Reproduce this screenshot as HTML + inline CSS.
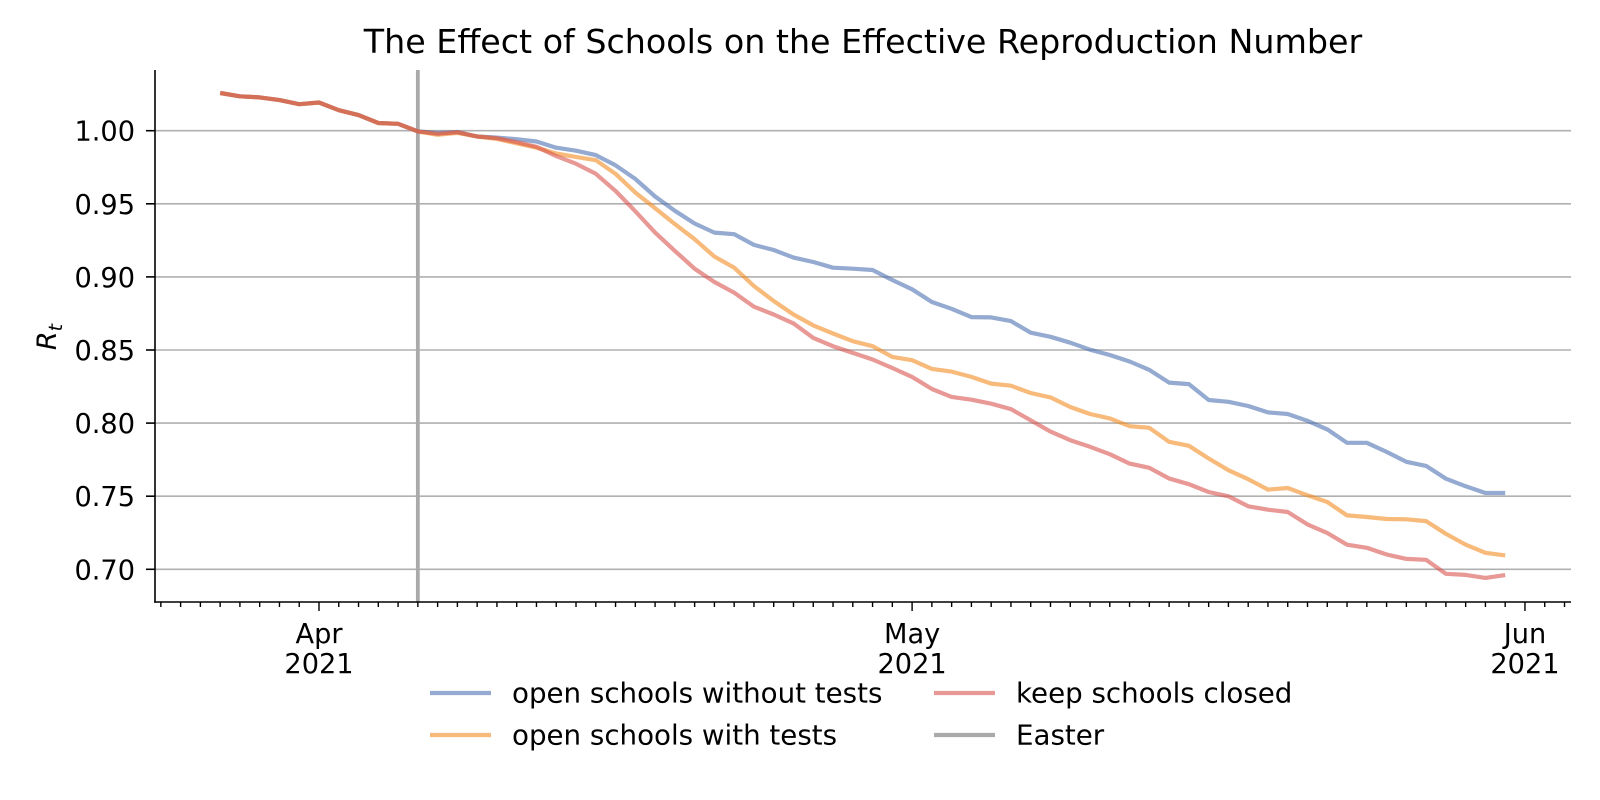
<!DOCTYPE html>
<html><head><meta charset="utf-8"><style>
html,body{margin:0;padding:0;background:#fff;width:1600px;height:800px;overflow:hidden}
svg{display:block;font-family:"DejaVu Sans","Liberation Sans",sans-serif}
</style></head><body>
<svg id="chart" width="1600" height="800" viewBox="0 0 1600 800">
<text x="863" y="53" text-anchor="middle" font-size="33.3" fill="#000">The Effect of Schools on the Effective Reproduction Number</text>
<g id="grid"></g>
<g id="lines"></g>
<g id="axes"></g>
<text transform="translate(56,337) rotate(-90)" text-anchor="middle" font-size="27" font-style="italic">R<tspan font-size="19" dy="6">t</tspan></text>
<g>
<g><line x1="430" y1="693" x2="491" y2="693" stroke="#4c72b0" stroke-opacity="0.6" stroke-width="4.2"/><text x="512" y="702.5" font-size="27.7">open schools without tests</text></g>
<g><line x1="430" y1="735" x2="491" y2="735" stroke="#f28c21" stroke-opacity="0.6" stroke-width="4.2"/><text x="512" y="744.5" font-size="27.7">open schools with tests</text></g>
<g><line x1="934" y1="693" x2="995" y2="693" stroke="#d9534f" stroke-opacity="0.6" stroke-width="4.2"/><text x="1016" y="702.5" font-size="27.7">keep schools closed</text></g>
<g><line x1="934" y1="735" x2="995" y2="735" stroke="#aaaaaa" stroke-width="4.2"/><text x="1016" y="744.5" font-size="27.7">Easter</text></g>
</g>
</svg>
<script>
// days relative to 1 Apr 2021
const days = [];
for (let d = -5; d <= 60; d++) days.push(d);
const commonVals = [1.0258,1.0235,1.0228,1.0209,1.0181,1.0193,1.014,1.0107,1.0053,1.0047,0.9995];
const blueVals = [0.9984,0.999,0.996,0.9953,0.9942,0.9926,0.9884,0.9863,0.9833,0.9763,0.967,
0.955,0.9452,0.9365,0.9303,0.9292,0.9219,0.9184,0.9132,0.9102,0.9063,0.9056,0.9047,0.8979,0.8915,0.8828,0.8782,0.8725,0.8723,0.8698,0.8618,
0.859,0.855,0.8502,0.8466,0.8421,0.8364,0.8277,0.8267,0.8158,0.8146,0.8117,0.8073,0.8062,0.8016,0.7957,0.7865,0.7865,0.7803,0.7735,0.7707,0.762,0.7568,0.7522,0.7522];
const orangeVals = [0.9972,0.9985,0.996,0.9944,0.9914,0.9884,0.9844,0.9821,0.9798,0.9705,0.9577,
0.947,0.9361,0.9258,0.9139,0.9063,0.8938,0.8835,0.8743,0.8668,0.8613,0.856,0.8526,0.8453,0.843,0.8371,0.8352,0.8316,0.827,0.8256,0.8206,
0.8176,0.811,0.8062,0.8032,0.7979,0.7968,0.7872,0.7845,0.7758,0.7678,0.7616,0.7545,0.7556,0.7506,0.746,0.7369,0.7358,0.7344,0.7342,0.733,0.7243,0.7168,0.7113,0.7095];
const redVals = [0.9979,0.999,0.996,0.9949,0.9921,0.989,0.9826,0.9774,0.9705,0.9588,0.9449,
0.9303,0.9178,0.9056,0.8965,0.8892,0.8796,0.8743,0.8682,0.8583,0.8526,0.848,0.8435,0.8377,0.8316,0.8233,0.8179,0.816,0.8133,0.8096,0.8019,
0.7942,0.7883,0.7838,0.7787,0.7723,0.7694,0.7621,0.7582,0.7529,0.7499,0.7431,0.7408,0.7392,0.7307,0.7248,0.7168,0.7147,0.7101,0.7071,0.7065,0.6969,0.6962,0.6941,0.696];
const yTicks = [0.70,0.75,0.80,0.85,0.90,0.95,1.00];
const yTickLabels = ["0.70","0.75","0.80","0.85","0.90","0.95","1.00"];
const majorDays = [0,30,61];
const majorLabels = ["Apr","May","Jun"];
const easterDay = 5;

const NS = "http://www.w3.org/2000/svg";
const X0 = 319, DX = 19.77;
const xs = d => X0 + d * DX;
const ys = v => 130.7 + (1 - v) * 1462;
const L = 155, R = 1571, T = 70, B = 602;
function mk(tag, attrs, parent) {
  const e = document.createElementNS(NS, tag);
  for (const k in attrs) e.setAttribute(k, attrs[k]);
  parent.appendChild(e);
  return e;
}
const grid = document.getElementById('grid');
const lines = document.getElementById('lines');
const axes = document.getElementById('axes');

yTicks.forEach((v, i) => {
  const g = mk('line', {x1: L, x2: R, y1: ys(v), y2: ys(v), stroke: '#b0b0b0', 'stroke-width': 1.6}, grid);
  
  
  const t = mk('line', {x1: L - 9, x2: L, y1: ys(v), y2: ys(v), stroke: '#000', 'stroke-width': 1.6}, axes);
  
  
  const lb = mk('text', {x: L - 20, y: ys(v) + 10, 'text-anchor': 'end', 'font-size': 27.2}, axes);
  lb.textContent = yTickLabels[i];
  
  
});

const ez = mk('line', {x1: xs(easterDay), x2: xs(easterDay), y1: T, y2: B, stroke: '#aaaaaa', 'stroke-width': 3.8}, grid);



const series = [
  {name: 'line-open-without-tests', color: '#4c72b0', vals: commonVals.concat(blueVals)},
  {name: 'line-open-with-tests', color: '#f28c21', vals: commonVals.concat(orangeVals)},
  {name: 'line-keep-closed', color: '#d9534f', vals: commonVals.concat(redVals)}
];
series.forEach(s => {
  const pts = s.vals.map((v, i) => xs(days[i]).toFixed(1) + ',' + ys(v).toFixed(1)).join(' ');
  const p = mk('polyline', {points: pts, fill: 'none', stroke: s.color, 'stroke-opacity': 0.6, 'stroke-width': 4.2, 'stroke-linejoin': 'round'}, lines);
  
  
});

const sl = mk('line', {x1: L, x2: L, y1: T, y2: B + 0.8, stroke: '#000', 'stroke-width': 1.6}, axes);


const sb = mk('line', {x1: L - 0.8, x2: R, y1: B, y2: B, stroke: '#000', 'stroke-width': 1.6}, axes);



for (let d = -8; d <= 63; d++) {
  const major = majorDays.indexOf(d) >= 0;
  const tk = mk('line', {x1: xs(d), x2: xs(d), y1: B, y2: B + (major ? 9 : 5), stroke: '#000', 'stroke-width': 1.4}, axes);
  
  
}
majorDays.forEach((d, i) => {
  const t1 = mk('text', {x: xs(d), y: 643, 'text-anchor': 'middle', 'font-size': 27.2}, axes);
  t1.textContent = majorLabels[i];
  
  
  const t2 = mk('text', {x: xs(d), y: 673, 'text-anchor': 'middle', 'font-size': 27.2}, axes);
  t2.textContent = '2021';
  
  
});
</script>
</body></html>
